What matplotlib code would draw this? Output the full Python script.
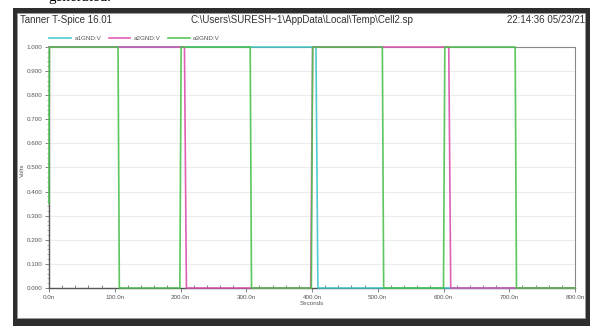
import matplotlib.pyplot as plt
from matplotlib.patches import Rectangle
from matplotlib.ticker import MultipleLocator, FuncFormatter

# waveform data (time in ns, volts)
a1_t = [0, 406, 409, 800]
a1_v = [1.0, 1.0, 0.0, 0.0]
a2_t = [0, 206, 209, 398, 401, 608, 611, 800]
a2_v = [1.0, 1.0, 0.0, 0.0, 1.0, 1.0, 0.0, 0.0]
a3_t = [0, 0.5, 105, 107, 199, 201, 306, 308, 399, 401, 507, 509, 600, 602, 709, 711, 800]
a3_v = [0.35, 1.0, 1.0, 0.0, 0.0, 1.0, 1.0, 0.0, 0.0, 1.0, 1.0, 0.0, 0.0, 1.0, 1.0, 0.0, 0.0]

series = [("a1GND:V", a1_t, a1_v, "#3ec6c8"),
          ("a2GND:V", a2_t, a2_v, "#dc4fae"),
          ("a3GND:V", a3_t, a3_v, "#4cc04c")]

plt.rcParams['font.family'] = ['Liberation Sans Narrow', 'Liberation Sans', 'DejaVu Sans']

fig = plt.figure(figsize=(5.9, 3.26), dpi=100)
W, H = 590.0, 326.0

# screenshot frame
fig.patches.append(Rectangle((13 / W, 0), 1 - 13 / W, 1 - 8 / H, transform=fig.transFigure,
                             facecolor="#2e2e2e", edgecolor="none", zorder=-10))
fig.patches.append(Rectangle((17 / W, 8 / H), 1 - 22 / W, 1 - 21 / H, transform=fig.transFigure,
                             facecolor="white", edgecolor="#9a9a9a", lw=0.6, zorder=-9))
fig.text(48 / W, 1 + 3 / H, "generated.", fontsize=11, family="Liberation Serif",
         va="center", ha="left", color="black")

ax = fig.add_axes([49 / W, 1 - 288 / H, 526 / W, 241 / H])
for name, t, v, c in series:
    ax.plot(t, v, color=c, lw=1.2, label=name, clip_on=False, zorder=3, alpha=0.9)

ax.set_xlim(0, 800)
ax.set_ylim(0, 1.0)
ax.xaxis.set_major_locator(MultipleLocator(100))
ax.xaxis.set_minor_locator(MultipleLocator(20))
ax.yaxis.set_major_locator(MultipleLocator(0.1))
ax.yaxis.set_minor_locator(MultipleLocator(0.02))
ax.xaxis.set_major_formatter(FuncFormatter(lambda x, p: "%.1fn" % x))
ax.yaxis.set_major_formatter(FuncFormatter(lambda y, p: "%.3f" % y))
ax.tick_params(axis="both", labelsize=4.5, colors="#555555", length=3, width=0.5, pad=2)
ax.tick_params(axis="x", which="minor", direction="in", length=2, width=0.5, colors="#555555")
ax.tick_params(axis="y", which="minor", direction="out", length=1.5, width=0.4, colors="#777777")
ax.grid(True, axis="y", color="#ececec", lw=0.8)
ax.set_axisbelow(True)
for s in ["left", "bottom"]:
    ax.spines[s].set_color("#555555")
    ax.spines[s].set_linewidth(1.0)
for s in ["top", "right"]:
    ax.spines[s].set_color("#888888")
    ax.spines[s].set_linewidth(0.8)

ax.set_xlabel("Seconds", fontsize=4.5, color="#555555", labelpad=1)
fig.text(22 / W, 1 - 170 / H, "Volts", fontsize=4.5, color="#555555", rotation=90,
         ha="center", va="center")

ax.legend(loc="lower left", bbox_to_anchor=(-0.01, 1.0), ncol=3, frameon=False,
          fontsize=4.5, handlelength=3.5, handletextpad=0.5, columnspacing=1.2,
          borderaxespad=0.5, labelcolor="#555555")

fig.text(20 / W, 1 - 20 / H, "Tanner T-Spice 16.01", fontsize=7, color="#333333",
         va="center", ha="left")
fig.text(302 / W, 1 - 20 / H, "C:\\Users\\SURESH~1\\AppData\\Local\\Temp\\Cell2.sp",
         fontsize=7, color="#333333", va="center", ha="center")
fig.text(585 / W, 1 - 20 / H, "22:14:36 05/23/21", fontsize=7, color="#333333",
         va="center", ha="right")

fig.savefig("out.png", dpi=100)
